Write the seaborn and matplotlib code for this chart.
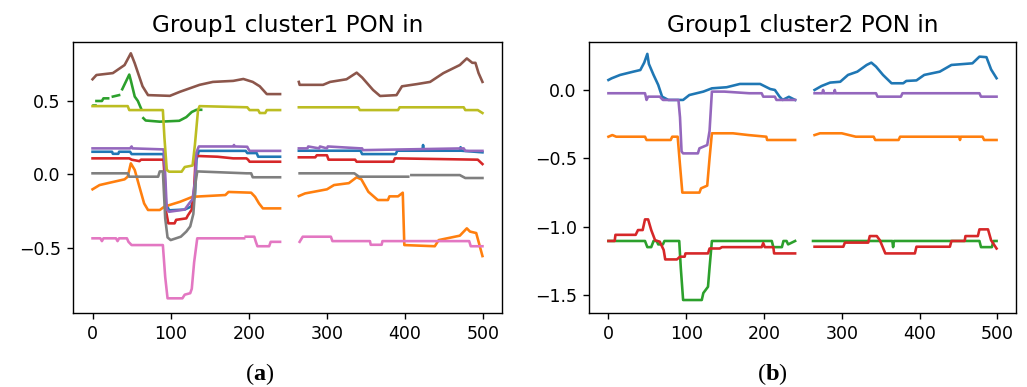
import numpy as np
import pandas as pd
import matplotlib
matplotlib.use("Agg")
import matplotlib.pyplot as plt
import seaborn as sns

nan = np.nan

# ---------------- Panel (a): Group1 cluster1 PON in ----------------
a_title = "Group1 cluster1 PON in"
a_blue_x = [0, 25, 26, 33, 34, 48, 50, 91, 94, 98, 118, 126, 131, 133, 136, 196, 198, 210, 212, 240, nan,
            264, 343, 345, 388, 390, 422, 423, 424, 470, 471, 472, 499]
a_blue_y = [0.154, 0.154, 0.14, 0.14, 0.154, 0.154, 0.138, 0.138, -0.20, -0.245, -0.24, -0.22, -0.15, 0.10, 0.16, 0.16, 0.145, 0.145, 0.12, 0.12, nan,
            0.161, 0.161, 0.138, 0.138, 0.161, 0.161, 0.20, 0.161, 0.161, 0.185, 0.161, 0.15]

a_orange_x = [0, 9, 22, 41, 45, 49, 54, 60, 66, 71, 86, 92, 112, 128, 170, 174, 203, 208, 213, 218, 240, nan,
              264, 272, 300, 309, 328, 338, 344, 353, 365, 378, 380, 391, 397, 399, 438, 443, 470, 479, 483, 491, 499]
a_orange_y = [-0.102, -0.073, -0.057, -0.034, -0.016, 0.075, 0.03, -0.085, -0.198, -0.243, -0.243, -0.22, -0.187, -0.153, -0.141, -0.12, -0.125, -0.153, -0.198, -0.232, -0.232, nan,
              -0.148, -0.13, -0.102, -0.073, -0.06, -0.02, -0.034, -0.119, -0.175, -0.175, -0.15, -0.15, -0.125, -0.482, -0.49, -0.448, -0.418, -0.368, -0.39, -0.40, -0.557]

a_green_x = [0, 3, nan, 5, 12, 14, 20, nan, 26, 34, nan, 38, 47, 49, 54, 58, 62, nan,
             65, 68, 86, 111, 120, 127, 133, 139]
a_green_y = [0.47, 0.47, nan, 0.50, 0.50, 0.518, 0.518, nan, 0.53, 0.54, nan, 0.58, 0.68, 0.64, 0.53, 0.50, 0.45, nan,
             0.383, 0.367, 0.359, 0.365, 0.39, 0.425, 0.44, 0.44]

a_red_x = [0, 47, 50, 60, 62, 91, 94, 97, 105, 107, 120, 122, 127, 130, 132, 135, 160, 180, 197, 199, 201, 240, nan,
           264, 285, 287, 300, 302, 336, 338, 385, 387, 493, 499]
a_red_y = [0.109, 0.109, 0.10, 0.09, 0.10, 0.10, -0.25, -0.334, -0.334, -0.31, -0.30, -0.28, -0.24, -0.10, 0.12, 0.125, 0.12, 0.109, 0.109, 0.10, 0.086, 0.086, nan,
           0.116, 0.116, 0.13, 0.13, 0.10, 0.10, 0.086, 0.086, 0.109, 0.10, 0.07]

a_purple_x = [0, 48, 50, 51, 91, 93, 95, 98, 118, 124, 128, 131, 133, 136, 180, 181, 182, 198, 199, 201, 240, nan,
              264, 275, 276, 290, 291, 300, 301, 343, 345, 346, 475, 477, 499]
a_purple_y = [0.177, 0.177, 0.19, 0.177, 0.17, 0.0, -0.24, -0.255, -0.24, -0.196, -0.17, -0.05, 0.15, 0.19, 0.19, 0.20, 0.19, 0.188, 0.177, 0.16, 0.16, nan,
              0.177, 0.177, 0.19, 0.177, 0.19, 0.177, 0.19, 0.177, 0.177, 0.165, 0.177, 0.16, 0.16]

a_brown_x = [0, 5, 26, 41, 49, 54, 64, 71, 99, 112, 137, 154, 180, 193, 205, 214, 223, 240, nan,
             264, 265, 295, 304, 325, 338, 345, 359, 368, 389, 396, 415, 432, 449, 470, 479, 486, 490, 494, 499]
a_brown_y = [0.648, 0.677, 0.69, 0.745, 0.825, 0.757, 0.60, 0.54, 0.535, 0.563, 0.61, 0.63, 0.637, 0.65, 0.63, 0.60, 0.547, 0.547, nan,
             0.63, 0.61, 0.61, 0.63, 0.648, 0.693, 0.66, 0.575, 0.534, 0.54, 0.60, 0.615, 0.63, 0.69, 0.745, 0.79, 0.76, 0.76, 0.69, 0.63]

a_pink_x = [0, 10, 12, 14, 30, 32, 34, 44, 46, 50, 90, 93, 96, 115, 118, 125, 127, 130, 134, 194, nan,
            196, 207, 209, 211, 226, 228, 240, nan,
            265, 269, 305, 307, 355, 356, 370, 371, 482, 484, 499]
a_pink_y = [-0.436, -0.436, -0.455, -0.436, -0.436, -0.455, -0.436, -0.436, -0.46, -0.482, -0.482, -0.70, -0.845, -0.845, -0.82, -0.81, -0.78, -0.60, -0.436, -0.436, nan,
            -0.425, -0.425, -0.46, -0.49, -0.49, -0.46, -0.46, nan,
            -0.46, -0.425, -0.425, -0.455, -0.455, -0.48, -0.48, -0.455, -0.455, -0.49, -0.49]

a_gray_x = [0, 45, 47, 84, 86, 90, 93, 96, 100, 113, 120, 125, 129, 132, 134, 197, 203, 205, 240, nan,
            265, 335, 341, 404, nan, 408, 470, 477, 499]
a_gray_y = [0.007, 0.007, -0.016, -0.016, 0.02, 0.02, -0.30, -0.43, -0.448, -0.425, -0.39, -0.355, -0.27, -0.05, 0.02, 0.007, 0.007, -0.02, -0.02, nan,
            0.007, 0.007, -0.016, -0.016, nan, -0.005, -0.005, -0.025, -0.025]

a_olive_x = [0, 45, 47, 90, 92, 95, 98, 114, 118, 128, 131, 135, 137, 198, 201, 212, 214, 221, 223, 240, nan,
             264, 340, 342, 391, 393, 475, 477, 493, 499]
a_olive_y = [0.465, 0.465, 0.438, 0.438, 0.25, 0.03, 0.018, 0.018, 0.05, 0.06, 0.20, 0.438, 0.465, 0.457, 0.438, 0.438, 0.418, 0.418, 0.438, 0.438, nan,
             0.457, 0.457, 0.438, 0.438, 0.457, 0.457, 0.438, 0.438, 0.418]

# ---------------- Panel (b): Group1 cluster2 PON in ----------------
b_title = "Group1 cluster2 PON in"
b_blue_x = [0, 4, 15, 32, 41, 46, 50, 52, 58, 64, 69, 77, 96, 104, 122, 133, 152, 169, 195, 208, 214, 220, 224, 232, 240, nan,
            265, 274, 285, 298, 308, 320, 332, 338, 344, 353, 364, 379, 383, 396, 406, 426, 441, 468, 477, 486, 492, 499]
b_blue_y = [0.073, 0.085, 0.11, 0.134, 0.146, 0.20, 0.264, 0.19, 0.11, 0.037, -0.049, -0.073, -0.073, -0.037, -0.012, 0.012, 0.02, 0.044, 0.044, 0.007, 0.0, -0.049, -0.073, -0.05, -0.073, nan,
            0.0, 0.029, 0.054, 0.06, 0.11, 0.134, 0.183, 0.20, 0.171, 0.11, 0.049, 0.049, 0.066, 0.07, 0.11, 0.134, 0.183, 0.195, 0.244, 0.24, 0.15, 0.086]

b_orange_x = [0, 5, 10, 47, 49, 80, 82, 89, 92, 95, 117, 119, 127, 130, 133, 160, 180, 203, 204, 240, nan,
              265, 272, 300, 318, 341, 343, 373, 375, 451, 452, 453, 481, 483, 499]
b_orange_y = [-0.342, -0.33, -0.342, -0.342, -0.366, -0.366, -0.342, -0.342, -0.55, -0.751, -0.751, -0.72, -0.70, -0.50, -0.317, -0.317, -0.33, -0.342, -0.366, -0.366, nan,
              -0.33, -0.317, -0.317, -0.342, -0.342, -0.366, -0.366, -0.342, -0.342, -0.366, -0.342, -0.342, -0.366, -0.366]

b_green_x = [0, 47, 50, 55, 58, 62, 64, 70, 72, 91, 93, 96, 120, 122, 128, 130, 133, 210, 212, 223, 225, 229, 231, 240, nan,
             263, 365, 366, 367, 477, 479, 493, 495, 499]
b_green_y = [-1.105, -1.105, -1.15, -1.15, -1.105, -1.105, -1.13, -1.13, -1.105, -1.105, -1.30, -1.537, -1.537, -1.486, -1.44, -1.30, -1.105, -1.105, -1.15, -1.15, -1.105, -1.105, -1.13, -1.105, nan,
             -1.105, -1.105, -1.15, -1.105, -1.105, -1.15, -1.15, -1.105, -1.105]

b_red_x = [0, 8, 9, 35, 38, 44, 47, 51, 55, 60, 66, 71, 73, 88, 92, 98, 99, 128, 130, 143, 146, 197, 199, 201, 212, 213, 240, nan,
           265, 302, 304, 334, 336, 345, 349, 356, 394, 396, 439, 441, 458, 459, 475, 477, 488, 492, 499]
b_red_y = [-1.105, -1.105, -1.06, -1.06, -1.025, -1.025, -0.947, -0.947, -1.025, -1.10, -1.11, -1.171, -1.24, -1.24, -1.22, -1.22, -1.196, -1.196, -1.16, -1.16, -1.15, -1.15, -1.12, -1.15, -1.15, -1.196, -1.196, nan,
           -1.147, -1.147, -1.117, -1.117, -1.069, -1.069, -1.10, -1.196, -1.196, -1.147, -1.147, -1.105, -1.105, -1.069, -1.069, -1.02, -1.02, -1.10, -1.16]

b_purple_x = [0, 47, 49, 51, 66, 70, 90, 92, 94, 96, 115, 117, 127, 130, 133, 149, 181, 197, 199, 214, 216, 240, nan,
              265, 275, 276, 277, 290, 291, 292, 344, 346, 376, 378, 477, 479, 499]
b_purple_y = [-0.024, -0.024, -0.073, -0.049, -0.049, -0.073, -0.073, -0.2, -0.45, -0.464, -0.464, -0.427, -0.403, -0.3, -0.012, -0.012, -0.024, -0.024, -0.049, -0.049, -0.073, -0.073, nan,
              -0.024, -0.024, 0.0, -0.024, -0.024, 0.0, -0.024, -0.024, -0.049, -0.049, -0.024, -0.024, -0.049, -0.049]

x_ticks = [0, 100, 200, 300, 400, 500]
a_y_ticks = [-0.5, 0.0, 0.5]
b_y_ticks = [-1.5, -1.0, -0.5, 0.0]

a_series = [(a_blue_x, a_blue_y), (a_orange_x, a_orange_y), (a_green_x, a_green_y), (a_red_x, a_red_y),
            (a_purple_x, a_purple_y), (a_brown_x, a_brown_y), (a_pink_x, a_pink_y), (a_gray_x, a_gray_y),
            (a_olive_x, a_olive_y)]
b_series = [(b_blue_x, b_blue_y), (b_orange_x, b_orange_y), (b_green_x, b_green_y), (b_red_x, b_red_y),
            (b_purple_x, b_purple_y)]


def to_long(series):
    rows = []
    seg_id = 0
    for i, (xs, ys) in enumerate(series):
        for x, y in zip(xs, ys):
            if np.isnan(y):
                seg_id += 1
                continue
            rows.append((x, y, f"s{i}", seg_id))
        seg_id += 1
    return pd.DataFrame(rows, columns=["x", "y", "series", "seg"])


palette = sns.color_palette("tab10")

fig = plt.figure(figsize=(1027 / 125, 387 / 125), dpi=125)
ax_a = fig.add_axes([73 / 1027, 1 - 313 / 387, (502 - 73) / 1027, (313 - 42) / 387])
ax_b = fig.add_axes([589 / 1027, 1 - 313 / 387, (1016 - 589) / 1027, (313 - 42) / 387])

for ax, series, title, yt, ylim in [
    (ax_a, a_series, a_title, a_y_ticks, (-0.945, 0.902)),
    (ax_b, b_series, b_title, b_y_ticks, (-1.632, 0.351)),
]:
    df = to_long(series)
    n = len(series)
    sns.lineplot(data=df, x="x", y="y", hue="series", units="seg", estimator=None, sort=False,
                 palette=palette[:n], hue_order=[f"s{i}" for i in range(n)],
                 legend=False, linewidth=1.5, ax=ax)
    ax.set(xlabel="", ylabel="")
    ax.set_title(title, fontsize=13.3)
    ax.set_xlim(-25, 524)
    ax.set_ylim(*ylim)
    ax.set_xticks(x_ticks)
    ax.set_yticks(yt)
    ax.set_yticklabels([f"{v:.1f}".replace("-", "\u2212") for v in yt])
    ax.tick_params(labelsize=10)

plt.rcParams["mathtext.fontset"] = "custom"
plt.rcParams["mathtext.rm"] = "Liberation Serif"
plt.rcParams["mathtext.bf"] = "Liberation Serif:bold"
fig.text(260 / 1027, 1 - 374 / 387, r"($\mathbf{a}$)", ha="center", va="center",
         fontsize=14, family="Liberation Serif")
fig.text(772 / 1027, 1 - 374 / 387, r"($\mathbf{b}$)", ha="center", va="center",
         fontsize=14, family="Liberation Serif")

fig.savefig("out.png", dpi=125)
